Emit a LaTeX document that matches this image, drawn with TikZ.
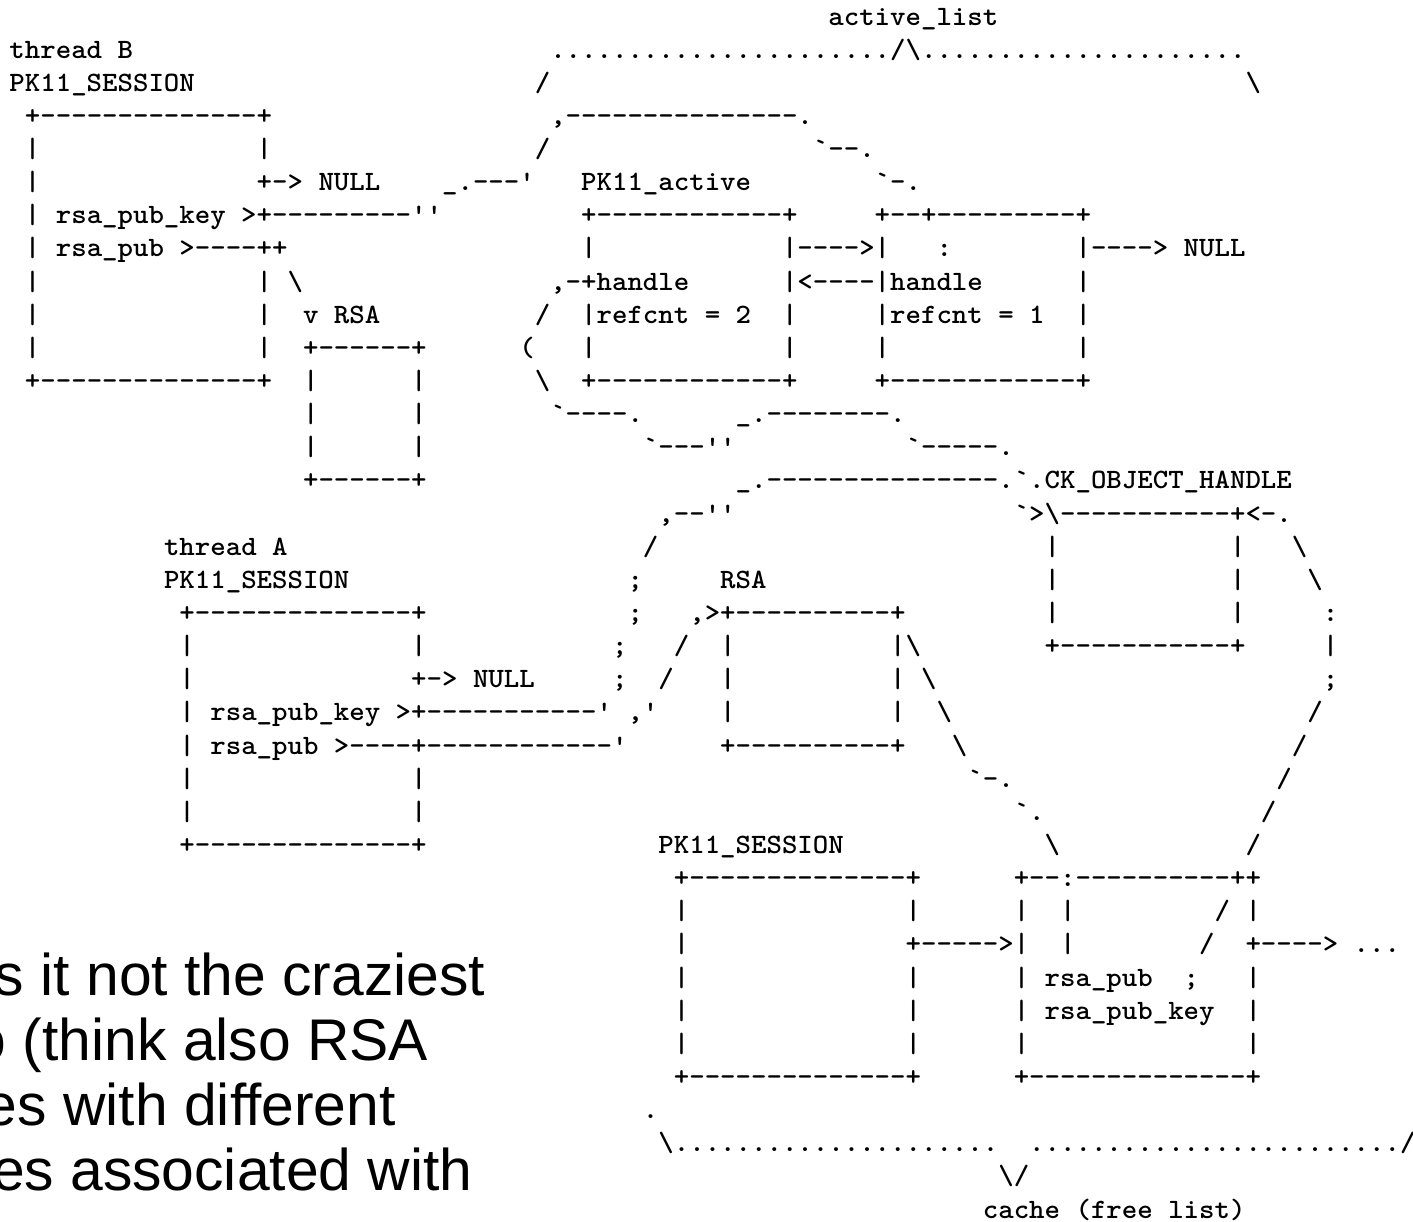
\documentclass[tikz,border=0pt]{standalone}
\usepackage{fontspec}
\usepackage{graphicx}
\newfontfamily\arialf{Liberation Sans}
\ExplSyntaxOn
\NewDocumentCommand\rep{mm}{\prg_replicate:nn{#1}{#2}}
\ExplSyntaxOff
\newcommand\bs{\textbackslash}
\newcommand\asctext[1]{\scalebox{1.051}[1]{\fontsize{14pt}{14pt}\selectfont\ttfamily\bfseries #1}}
\tikzset{
  asc/.style={anchor=base west, inner sep=0pt, outer sep=0pt},
  big/.style={anchor=base west, inner sep=0pt, outer sep=0pt, font=\arialf\fontsize{29.4pt}{29.4pt}\selectfont}
}
\newcommand\seg[4]{\node[asc] (#1) at ({9.5+15.45*#2},{25+33.14*#3}) {\asctext{#4}};}
\begin{document}
\begin{tikzpicture}[x=0.5pt,y=-0.5pt]
\useasboundingbox (0,0) rectangle (1413,1221);
\fill[white] (0,0) rectangle (1413,1221);
\begin{scope}
\clip (0,0) rectangle (1413,1221);
% row 0
\seg{r0a}{53}{0}{active\_list}
% row 1
\seg{r1a}{0}{1}{thread B}
\seg{r1b}{35}{1}{\rep{22}{.}/\bs\rep{21}{.}}
% row 2
\seg{r2a}{0}{2}{PK11\_SESSION}
\seg{r2b}{34}{2}{/}
\seg{r2c}{80}{2}{\bs}
% row 3
\seg{r3a}{1}{3}{+\rep{14}{-}+}
\seg{r3b}{35}{3}{,\rep{15}{-}.}
% row 4
\seg{r4a}{1}{4}{|}
\seg{r4b}{16}{4}{|}
\seg{r4c}{34}{4}{/}
\seg{r4d}{52}{4}{`--.}
% row 5
\seg{r5a}{1}{5}{|}
\seg{r5b}{16}{5}{+-> NULL}
\seg{r5c}{28}{5}{\_.---'}
\seg{r5d}{37}{5}{PK11\_active}
\seg{r5e}{56}{5}{`-.}
% row 6
\seg{r6a}{1}{6}{| rsa\_pub\_key >+\rep{9}{-}''}
\seg{r6b}{37}{6}{+\rep{12}{-}+}
\seg{r6c}{56}{6}{+--+\rep{9}{-}+}
% row 7
\seg{r7a}{1}{7}{| rsa\_pub >----++}
\seg{r7b}{37}{7}{|}
\seg{r7c}{50}{7}{|---->|}
\seg{r7d}{60}{7}{:}
\seg{r7e}{69}{7}{|----> NULL}
% row 8
\seg{r8a}{1}{8}{|}
\seg{r8b}{16}{8}{| \bs}
\seg{r8c}{35}{8}{,-+handle}
\seg{r8d}{50}{8}{|<----|handle}
\seg{r8e}{69}{8}{|}
% row 9
\seg{r9a}{1}{9}{|}
\seg{r9b}{16}{9}{|}
\seg{r9c}{19}{9}{v RSA}
\seg{r9d}{34}{9}{/}
\seg{r9e}{37}{9}{|refcnt = 2}
\seg{r9f}{50}{9}{|}
\seg{r9g}{56}{9}{|refcnt = 1}
\seg{r9h}{69}{9}{|}
% row 10
\seg{r10a}{1}{10}{|}
\seg{r10b}{16}{10}{|}
\seg{r10c}{19}{10}{+\rep{6}{-}+}
\seg{r10d}{33}{10}{(}
\seg{r10e}{37}{10}{|}
\seg{r10f}{50}{10}{|}
\seg{r10g}{56}{10}{|}
\seg{r10h}{69}{10}{|}
% row 11
\seg{r11a}{1}{11}{+\rep{14}{-}+}
\seg{r11b}{19}{11}{|}
\seg{r11c}{26}{11}{|}
\seg{r11d}{34}{11}{\bs}
\seg{r11e}{37}{11}{+\rep{12}{-}+}
\seg{r11f}{56}{11}{+\rep{12}{-}+}
% row 12
\seg{r12a}{19}{12}{|}
\seg{r12b}{26}{12}{|}
\seg{r12c}{35}{12}{`----.}
\seg{r12d}{47}{12}{\_.\rep{8}{-}.}
% row 13
\seg{r13a}{19}{13}{|}
\seg{r13b}{26}{13}{|}
\seg{r13c}{41}{13}{`---''}
\seg{r13d}{58}{13}{`-----.}
% row 14
\seg{r14a}{19}{14}{+\rep{6}{-}+}
\seg{r14b}{47}{14}{\_.\rep{15}{-}.}
\seg{r14c}{65}{14}{`.CK\_OBJECT\_HANDLE}
% row 15
\seg{r15a}{42}{15}{,--''}
\seg{r15b}{65}{15}{`>\bs\rep{11}{-}+<-.}
% row 16
\seg{r16a}{10}{16}{thread A}
\seg{r16b}{41}{16}{/}
\seg{r16c}{67}{16}{|}
\seg{r16d}{79}{16}{|}
\seg{r16e}{83}{16}{\bs}
% row 17
\seg{r17a}{10}{17}{PK11\_SESSION}
\seg{r17b}{40}{17}{;}
\seg{r17c}{46}{17}{RSA}
\seg{r17d}{67}{17}{|}
\seg{r17e}{79}{17}{|}
\seg{r17f}{84}{17}{\bs}
% row 18
\seg{r18a}{11}{18}{+\rep{14}{-}+}
\seg{r18b}{40}{18}{;}
\seg{r18c}{44}{18}{,>+\rep{10}{-}+}
\seg{r18d}{67}{18}{|}
\seg{r18e}{79}{18}{|}
\seg{r18f}{85}{18}{:}
% row 19
\seg{r19a}{11}{19}{|}
\seg{r19b}{26}{19}{|}
\seg{r19c}{39}{19}{;}
\seg{r19d}{43}{19}{/}
\seg{r19e}{46}{19}{|}
\seg{r19f}{57}{19}{|\bs}
\seg{r19g}{67}{19}{+\rep{11}{-}+}
\seg{r19h}{85}{19}{|}
% row 20
\seg{r20a}{11}{20}{|}
\seg{r20b}{26}{20}{+-> NULL}
\seg{r20c}{39}{20}{;}
\seg{r20d}{42}{20}{/}
\seg{r20e}{46}{20}{|}
\seg{r20f}{57}{20}{| \bs}
\seg{r20g}{85}{20}{;}
% row 21
\seg{r21a}{11}{21}{| rsa\_pub\_key >+\rep{11}{-}'}
\seg{r21b}{40}{21}{,'}
\seg{r21c}{46}{21}{|}
\seg{r21d}{57}{21}{|}
\seg{r21e}{60}{21}{\bs}
\seg{r21f}{84}{21}{/}
% row 22
\seg{r22a}{11}{22}{| rsa\_pub >----+\rep{12}{-}'}
\seg{r22b}{46}{22}{+\rep{10}{-}+}
\seg{r22c}{61}{22}{\bs}
\seg{r22d}{83}{22}{/}
% row 23
\seg{r23a}{11}{23}{|}
\seg{r23b}{26}{23}{|}
\seg{r23c}{62}{23}{`-.}
\seg{r23d}{82}{23}{/}
% row 24
\seg{r24a}{11}{24}{|}
\seg{r24b}{26}{24}{|}
\seg{r24c}{65}{24}{`.}
\seg{r24d}{81}{24}{/}
% row 25
\seg{r25a}{11}{25}{+\rep{14}{-}+}
\seg{r25b}{42}{25}{PK11\_SESSION}
\seg{r25c}{67}{25}{\bs}
\seg{r25d}{80}{25}{/}
% row 26
\seg{r26a}{43}{26}{+\rep{14}{-}+}
\seg{r26b}{65}{26}{+--:\rep{10}{-}++}
% row 27
\seg{r27a}{43}{27}{|}
\seg{r27b}{58}{27}{|}
\seg{r27c}{65}{27}{|}
\seg{r27d}{68}{27}{|}
\seg{r27e}{78}{27}{/}
\seg{r27f}{80}{27}{|}
% row 28
\seg{r28a}{43}{28}{|}
\seg{r28b}{58}{28}{+----->|}
\seg{r28c}{68}{28}{|}
\seg{r28d}{77}{28}{/}
\seg{r28e}{80}{28}{+----> ...}
% row 29
\seg{r29a}{43}{29}{|}
\seg{r29b}{58}{29}{|}
\seg{r29c}{65}{29}{| rsa\_pub}
\seg{r29d}{76}{29}{;}
\seg{r29e}{80}{29}{|}
% row 30
\seg{r30a}{43}{30}{|}
\seg{r30b}{58}{30}{|}
\seg{r30c}{65}{30}{| rsa\_pub\_key}
\seg{r30d}{80}{30}{|}
% row 31
\seg{r31a}{43}{31}{|}
\seg{r31b}{58}{31}{|}
\seg{r31c}{65}{31}{|}
\seg{r31d}{80}{31}{|}
% row 32
\seg{r32a}{43}{32}{+\rep{14}{-}+}
\seg{r32b}{65}{32}{+\rep{14}{-}+}
% row 33
\seg{r33a}{41}{33}{.}
% row 34
\seg{r34a}{42}{34}{\bs\rep{21}{.}}
\seg{r34b}{66}{34}{\rep{24}{.}/}
% row 35
\seg{r35a}{64}{35}{\bs/}
% row 36
\seg{r36a}{63}{36}{cache (free list)}
% overlaid sans text (cut at the left edge, as in the reference)
\node[big] (t1) at (-5,995) {s it not the craziest};
\node[big] (t2) at (-26,1060) {o (think also RSA};
\node[big] (t3) at (-15,1125) {es with different};
\node[big] (t4) at (-8,1190) {es associated with};
\end{scope}
\end{tikzpicture}
\end{document}
